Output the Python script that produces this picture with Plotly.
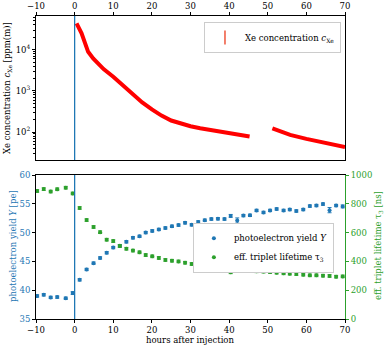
import plotly.graph_objects as go

FONT = "DejaVu Serif"
RED = "#ff0000"
BLUE = "#1f77b4"
GREEN = "#2ca02c"

injection_hour = [0]

# Xe concentration (top panel), gap between ~45 h and ~51 h
xe_hours = [0.5, 1.8, 2.7, 3.5, 4.8, 5.7, 7.5, 10.0, 12.5, 15.0, 17.5, 20.0, 22.5,
            25.0, 27.5, 30.0, 32.5, 35.0, 40.0, 45.3, None,
            51.2, 53.0, 55.8, 60.0, 65.0, 70.0]
xe_conc = [43600, 25100, 14450, 8900, 6170, 5130, 3390, 2210, 1350, 870, 525, 355, 251,
           190, 158, 138, 123, 112, 93, 78, None,
           123, 105, 85, 68, 55, 43]

# bottom panel
meas_hours = [-9.7, -8.0, -6.2, -4.5, -2.3, -0.5, 1.3, 3.1, 4.9, 6.6, 8.3,
              10.0, 11.7, 13.4, 15.1, 16.8, 18.4, 20.1, 21.8, 23.5, 25.2,
              26.9, 28.6, 30.3, 32.0, 33.7, 35.4, 37.1, 38.8, 40.4, 42.1,
              43.7, 45.4, 47.1, 48.9, 50.6, 52.3, 54.1, 55.7, 57.4, 59.2,
              60.9, 62.6, 64.3, 66.0, 67.7, 69.4]
pe_yield = [39.0, 39.2, 38.75, 38.8, 38.6, 39.5, 41.8, 43.6, 44.7, 45.6, 46.5,
            47.4, 47.7, 48.4, 49.1, 49.35, 50.0, 50.3, 50.55, 50.8, 51.1,
            51.3, 51.7, 51.35, 51.85, 52.15, 52.35, 52.4, 52.35, 52.9, 52.1,
            52.95, 53.0, 53.85, 53.5, 53.85, 54.1, 53.85, 54.0, 53.75, 54.0,
            54.6, 54.7, 54.95, 53.9, 54.7, 54.55]
pe_err = [0.2, 0.2, 0.2, 0.2, 0.2, 0.25, 0.2, 0.2, 0.2, 0.2, 0.2,
          0.2, 0.2, 0.2, 0.2, 0.2, 0.2, 0.2, 0.2, 0.2, 0.2,
          0.2, 0.2, 0.2, 0.2, 0.2, 0.2, 0.2, 0.2, 0.25, 0.45,
          0.2, 0.2, 0.2, 0.2, 0.2, 0.2, 0.2, 0.2, 0.2, 0.2,
          0.2, 0.2, 0.2, 0.45, 0.2, 0.25]
tau3 = [889, 902, 885, 901, 912, 872, 771, 687, 639, 603, 551,
        541, 507, 488, 475, 463, 444, 435, 424, 410, 405,
        400, 391, 382, 375, 373, 366, 366, 356, 324, 343,
        338, 345, 331, 329, 326, 322, 317, 315, 312, 308,
        303, 303, 301, 299, 294, 296]
tau_err = [9] * len(tau3)

fig = go.Figure()

# top: Xe concentration
fig.add_trace(go.Scatter(x=xe_hours, y=xe_conc, mode="lines", line=dict(color=RED, width=4),
                         connectgaps=False, showlegend=False, xaxis="x", yaxis="y"))
fig.add_trace(go.Scatter(x=[None], y=[None], mode="markers",
                         marker=dict(symbol="line-ns-open", size=10, line=dict(color=RED, width=1.5)),
                         name="Xe concentration <i>c</i><sub>Xe</sub>", legend="legend",
                         xaxis="x", yaxis="y"))

# bottom: photoelectron yield and triplet lifetime
fig.add_trace(go.Scatter(x=meas_hours, y=pe_yield, mode="markers",
                         marker=dict(color=BLUE, size=4),
                         error_y=dict(type="data", array=pe_err, color=BLUE, thickness=1, width=2),
                         name="photoelectron yield <i>Y</i>", legend="legend2",
                         xaxis="x2", yaxis="y2"))
fig.add_trace(go.Scatter(x=meas_hours, y=tau3, mode="markers",
                         marker=dict(color=GREEN, size=4),
                         error_y=dict(type="data", array=tau_err, color=GREEN, thickness=1, width=2),
                         name="eff. triplet lifetime τ<sub>3</sub>", legend="legend2",
                         xaxis="x2", yaxis="y3"))

for xr, yr in (("x", "y"), ("x2", "y2")):
    fig.add_shape(type="line", xref=xr, yref=yr + " domain", x0=injection_hour[0], x1=injection_hour[0],
                  y0=0, y1=1, line=dict(color=BLUE, width=1.3))

tickfont = dict(family=FONT, size=8.5, color="black")
axis_common = dict(showline=True, linecolor="black", linewidth=1, ticks="outside",
                   ticklen=3, tickwidth=1, tickcolor="black", showgrid=False, zeroline=False,
                   automargin=False)

minor_vals = [m * 10 ** e for e in (1, 2, 3, 4) for m in range(2, 10)]

# axis titles as annotations (paper coords; plot area spans x 36..345 px, y 16..319 px)
def px_x(px):
    return (px - 36) / 309.0

def px_y(py):
    return (319 - py) / 303.0

titles = [
    dict(text="Xe concentration <i>c</i><sub>Xe</sub> [ppm(m)]", x=px_x(7), y=px_y(88),
         textangle=-90, font=dict(family=FONT, size=8.5, color="black")),
    dict(text="photoelectron yield <i>Y</i> [pe]", x=px_x(13), y=px_y(246),
         textangle=-90, font=dict(family=FONT, size=8.5, color=BLUE)),
    dict(text="eff. triplet lifetime τ<sub>3</sub> [ns]", x=px_x(378), y=px_y(246),
         textangle=-90, font=dict(family=FONT, size=8.5, color=GREEN)),
    dict(text="hours after injection", x=px_x(190), y=px_y(339.5),
         textangle=0, font=dict(family=FONT, size=8.5, color="black")),
]
annotations = [dict(xref="paper", yref="paper", xanchor="center", yanchor="middle",
                    showarrow=False, **t) for t in titles]

fig.update_layout(
    width=388, height=346,
    margin=dict(l=36, r=43, t=16, b=27, autoexpand=False),
    paper_bgcolor="white", plot_bgcolor="white",
    font=dict(family=FONT, size=8.5, color="black"),
    annotations=annotations,
    xaxis=dict(domain=[0, 1], anchor="y", side="top", range=[-10, 70], dtick=10,
               mirror=True, tickfont=tickfont, **axis_common),
    yaxis=dict(domain=[0.5248, 1], anchor="x", type="log", range=[1.32, 4.82],
               tickvals=[100, 1000, 10000],
               ticktext=["10<sup>2</sup>", "10<sup>3</sup>", "10<sup>4</sup>"],
               minor=dict(tickvals=minor_vals, ticks="outside", ticklen=2, tickcolor="black"),
               mirror=True, tickfont=tickfont, **axis_common),
    xaxis2=dict(domain=[0, 1], anchor="y2", range=[-10, 70], dtick=10, mirror=True,
                tickfont=tickfont, **axis_common),
    yaxis2=dict(domain=[0, 0.4752], anchor="x2", range=[35, 60], dtick=5,
                tickfont=dict(family=FONT, size=8.5, color=BLUE), **axis_common),
    yaxis3=dict(domain=[0, 0.4752], anchor="x2", overlaying="y2", side="right", range=[0, 1000],
                dtick=200, showline=True, linecolor=GREEN, linewidth=1, ticks="outside",
                ticklen=3, tickcolor=GREEN, showgrid=False, zeroline=False, automargin=False,
                tickfont=dict(family=FONT, size=8.5, color=GREEN)),
    legend=dict(x=0.987, y=0.98, xanchor="right", yanchor="top", bgcolor="white",
                bordercolor="#cccccc", borderwidth=1, font=dict(family=FONT, size=8.5)),
    legend2=dict(x=0.964, y=0.318, xanchor="right", yanchor="top", bgcolor="white",
                 bordercolor="#cccccc", borderwidth=1, font=dict(family=FONT, size=8.5),
                 tracegroupgap=0),
)

fig.write_html("out.html", config={"displayModeBar": False},
               post_script="document.body.style.margin='0';document.body.style.padding='0';")
